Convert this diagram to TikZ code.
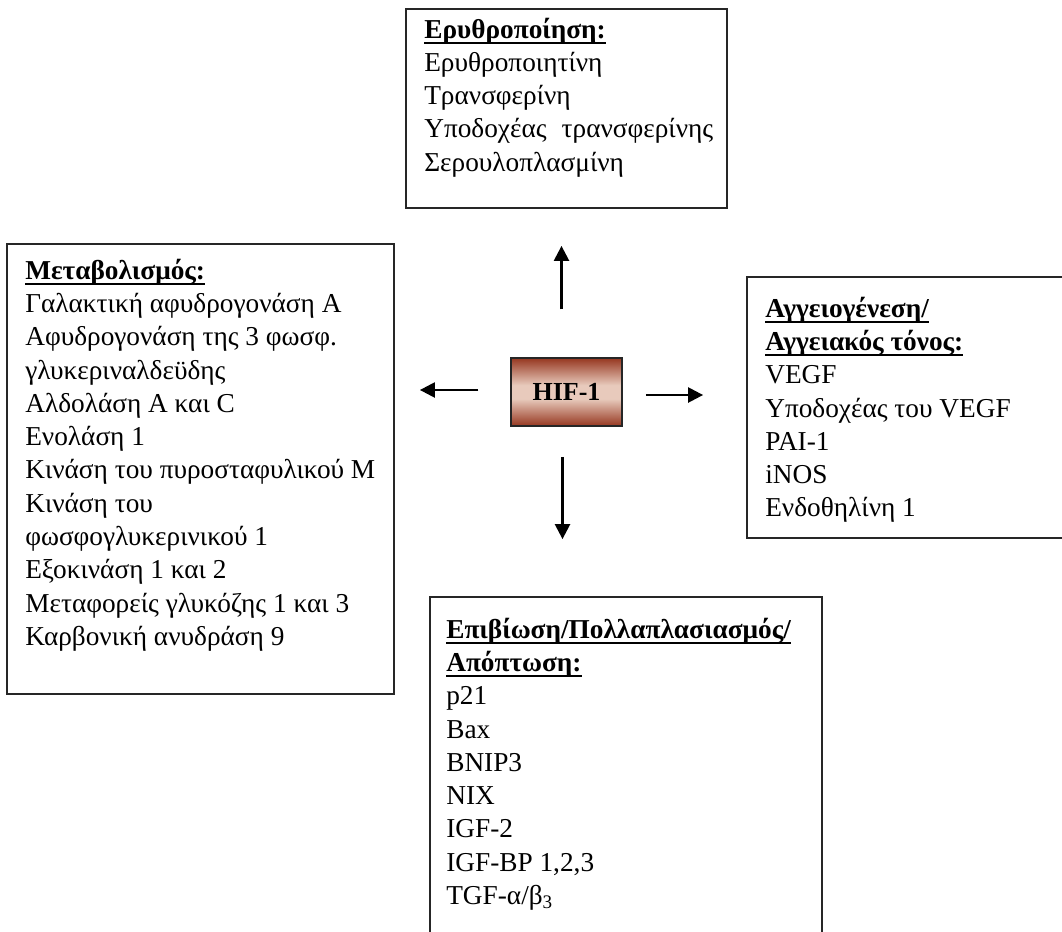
\documentclass[tikz,border=0pt]{standalone}
\usepackage{fontspec}
\setmainfont{Liberation Serif}
\usetikzlibrary{arrows.meta,positioning,calc}

\definecolor{hifdark}{RGB}{150,55,32}
\definecolor{hiflight}{RGB}{232,202,188}
\pgfdeclareverticalshading{hifshade}{100bp}{color(0bp)=(hifdark); color(25bp)=(hifdark); color(45bp)=(hiflight); color(55bp)=(hiflight); color(75bp)=(hifdark); color(100bp)=(hifdark)}

% bold heading with a Word-like underline
\newlength{\ulwidth}
\newcommand{\ulhead}[1]{\settowidth{\ulwidth}{\bfseries #1}\rlap{\rule[-6pt]{\ulwidth}{2.3pt}}{\bfseries #1}}

\begin{document}
\begin{tikzpicture}[
  x=1pt, y=-1pt,
  every node/.style={font=\fontsize{27.3}{33.3}\selectfont},
  listbox/.style={
    rectangle,
    draw=black!85,
    line width=1.8pt,
    inner sep=0pt
  },
  listtext/.style={anchor=base west, inner sep=0pt},
  hifbox/.style={
    rectangle,
    draw=black!85,
    line width=1.5pt,
    shade, shading=hifshade,
    minimum width=111pt,
    minimum height=68pt,
    font=\fontsize{26}{30}\selectfont\bfseries
  },
  arrow/.style={-{Triangle[length=15pt,width=15pt]}, line width=2.4pt}
]
\useasboundingbox (0,0) rectangle (1062,931);
\clip (0,0) rectangle (1062,931);

% Centre
\node[hifbox] (hif) at (566.5,392) {HIF-1};

% Target boxes
\node[listbox, minimum width=321pt, minimum height=199pt] (ery) at (566.5,108.5) {};
\node[listbox, minimum width=387pt, minimum height=450pt] (meta) at (200.5,469) {};
\node[listbox, minimum width=328pt, minimum height=261pt] (vasc) at (911,407.5) {};
\node[listbox, minimum width=392pt, minimum height=353pt] (surv) at (626,773.5) {};

% Box texts
\node[listtext] (erytxt) at ([shift={(19,30)}]ery.north west) {%
  \begin{tabular}[t]{@{}l@{}}
  \ulhead{Ερυθροποίηση:}\\
  Ερυθροποιητίνη\\
  Τρανσφερίνη\\
  Υποδοχέας\hspace{0.55em}τρανσφερίνης\\
  Σερουλοπλασμίνη
  \end{tabular}};
\node[listtext] (metatxt) at ([shift={(19,36)}]meta.north west) {%
  \begin{tabular}[t]{@{}l@{}}
  \ulhead{Μεταβολισμός:}\\
  Γαλακτική αφυδρογονάση Α\\
  Αφυδρογονάση της 3 φωσφ.\\
  γλυκεριναλδεϋδης\\
  Αλδολάση Α και C\\
  Ενολάση 1\\
  Κινάση του πυροσταφυλικού Μ\\
  Κινάση του\\
  φωσφογλυκερινικού 1\\
  Εξοκινάση 1 και 2\\
  Μεταφορείς γλυκόζης 1 και 3\\
  Καρβονική ανυδράση 9
  \end{tabular}};
\node[listtext] (vasctxt) at ([shift={(19,41)}]vasc.north west) {%
  \begin{tabular}[t]{@{}l@{}}
  \ulhead{Αγγειογένεση/}\\
  \ulhead{Αγγειακός τόνος:}\\
  VEGF\\
  Υποδοχέας του VEGF\\
  PAI-1\\
  iNOS\\
  Ενδοθηλίνη 1
  \end{tabular}};
\node[listtext] (survtxt) at ([shift={(17,42)}]surv.north west) {%
  \begin{tabular}[t]{@{}l@{}}
  \ulhead{Επιβίωση/Πολλαπλασιασμός/}\\
  \ulhead{Απόπτωση:}\\
  p21\\
  Bax\\
  BNIP3\\
  NIX\\
  IGF-2\\
  IGF-BP 1,2,3\\
  TGF-α/β\textsubscript{3}
  \end{tabular}};

% Arrows
\path (hif.north) ++(-5,0) coordinate (upfoot);
\path (hif.south) ++(-4,0) coordinate (downfoot);
\path (hif.west) ++(0,-2) coordinate (leftfoot);
\path (hif.east) ++(0,3) coordinate (rightfoot);

\draw[arrow, shorten <=48pt, shorten >=37pt] (upfoot) -- (upfoot |- ery.south);
\draw[arrow, shorten <=32pt, shorten >=25pt] (leftfoot) -- (leftfoot -| meta.east);
\draw[arrow, shorten <=23pt, shorten >=43pt] (rightfoot) -- (rightfoot -| vasc.west);
\draw[arrow, shorten <=30pt, shorten >=57pt] (downfoot) -- (downfoot |- surv.north);

\end{tikzpicture}
\end{document}
